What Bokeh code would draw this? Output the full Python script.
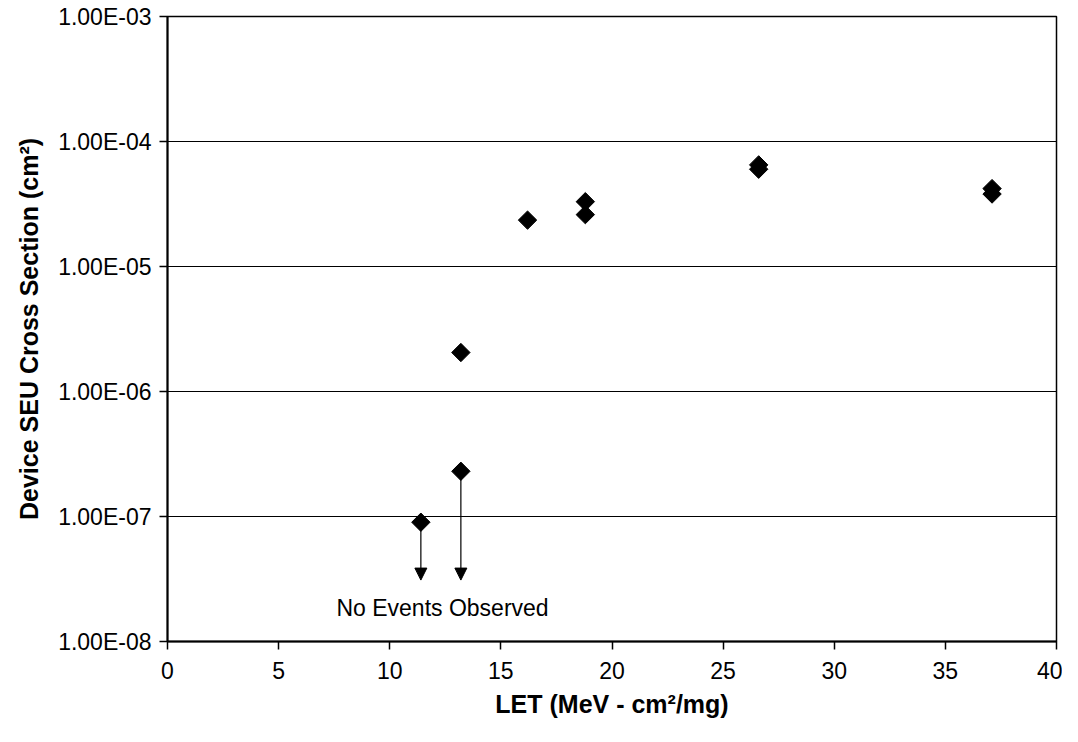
import math
from bokeh.plotting import figure
from bokeh.models import (Range1d, FixedTicker, CustomJSTickFormatter, Arrow,
                          NormalHead, ColumnDataSource)
from bokeh.core.properties import value
from bokeh.embed import file_html
from bokeh.resources import INLINE

# Data
let_values = [11.4, 13.2, 13.2, 16.2, 18.8, 18.8, 26.6, 26.6, 37.1, 37.1]
cross_section = [9.0e-8, 2.3e-7, 2.05e-6, 2.35e-5, 3.3e-5, 2.6e-5, 6.5e-5, 6.0e-5, 4.2e-5, 3.8e-5]

# Upper-limit points (no events observed) with downward arrows
limit_let = [11.4, 13.2]
limit_start = [9.0e-8, 2.3e-7]
limit_end = [3.1e-8, 3.1e-8]

x_ticks = [0, 5, 10, 15, 20, 25, 30, 35, 40]
y_ticks = [1e-8, 1e-7, 1e-6, 1e-5, 1e-4, 1e-3]

annotation_text = ["No Events Observed"]
annotation_x = [7.6]
annotation_y = [1.87e-8]

FONT = "Liberation Sans"

p = figure(width=1062, height=726, y_axis_type="log",
           x_range=Range1d(0, 40), y_range=Range1d(1e-8, 1e-3),
           output_backend="svg", toolbar_location=None,
           min_border_left=167, min_border_top=16, min_border_right=6,
           min_border_bottom=85)

p.background_fill_color = "white"
p.border_fill_color = "white"
p.outline_line_color = "black"
p.outline_line_width = 1.5

# grids
p.xgrid.grid_line_color = None
p.ygrid.grid_line_color = "black"
p.ygrid.grid_line_width = 1
p.ygrid.ticker = FixedTicker(ticks=y_ticks)

# axes
p.xaxis.ticker = FixedTicker(ticks=x_ticks)
p.yaxis.ticker = FixedTicker(ticks=y_ticks)
p.yaxis.formatter = CustomJSTickFormatter(code="""
    var s = tick.toExponential(2).replace('e', 'E');
    return s.replace(/E([+-])(\\d)$/, 'E$10$2');
""")

for ax in (p.xaxis[0], p.yaxis[0]):
    ax.axis_line_color = "black"
    ax.axis_line_width = 2
    ax.major_tick_line_color = "black"
    ax.major_tick_line_width = 1.5
    ax.major_tick_out = 8
    ax.major_tick_in = 0
    ax.minor_tick_line_color = None
    ax.major_label_text_font = FONT
    ax.major_label_text_font_size = "23px"
    ax.major_label_text_color = "black"
    ax.axis_label_text_font = FONT
    ax.axis_label_text_font_size = "25px"
    ax.axis_label_text_font_style = "bold"
    ax.axis_label_text_color = "black"

p.xaxis.axis_label = "LET (MeV - cm²/mg)"
p.yaxis.axis_label = "Device SEU Cross Section (cm²)"
p.xaxis.major_label_standoff = 12
p.yaxis.major_label_standoff = 8
p.xaxis.axis_label_standoff = 8
p.yaxis.axis_label_standoff = 12

# arrows
for xv, ys, ye in zip(limit_let, limit_start, limit_end):
    p.add_layout(Arrow(end=NormalHead(size=12, fill_color="black", line_color="black"),
                       x_start=xv, y_start=ys, x_end=xv, y_end=ye,
                       line_color="black", line_width=1.2))

# points
src = ColumnDataSource(dict(x=let_values, y=cross_section))
p.scatter("x", "y", source=src, marker="square", angle=math.pi / 4, size=13,
          fill_color="black", line_color="black")

p.text(x=annotation_x, y=annotation_y, text=annotation_text,
       text_font=value(FONT), text_font_size="23px", text_color="black",
       text_baseline="middle", text_align="left")

open("out.html", "w").write(file_html(p, INLINE))
